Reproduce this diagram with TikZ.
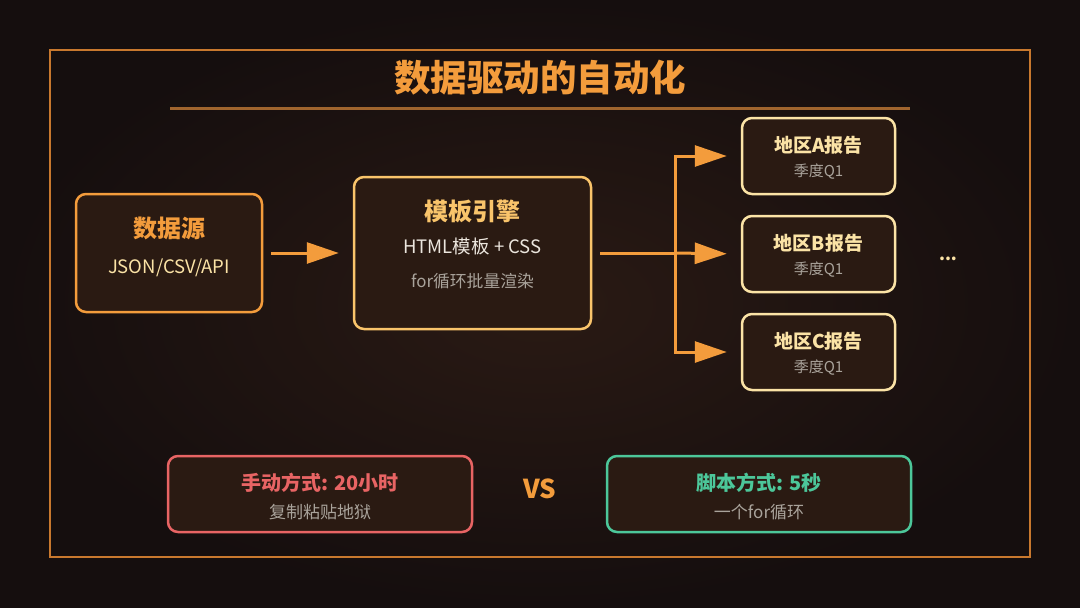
\documentclass[tikz,border=0pt]{standalone}
\usepackage{fontspec}
\setmainfont{Noto Sans CJK SC}
\usetikzlibrary{arrows.meta}
\definecolor{bgin}{HTML}{2A1A14}
\definecolor{bgout}{HTML}{150E0E}
\definecolor{boxfill}{HTML}{2A1A12}
\definecolor{frame}{HTML}{C8782E}
\definecolor{rule}{HTML}{A0652E}
\definecolor{orng}{HTML}{F39C3C}
\definecolor{gold}{HTML}{F9C46B}
\definecolor{cream}{HTML}{FBE3A6}
\definecolor{lgray}{HTML}{ECE6DE}
\definecolor{dgray}{HTML}{A9A39B}
\definecolor{rd}{HTML}{E86464}
\definecolor{grn}{HTML}{4CC79A}
\newcommand{\fs}[1]{\fontsize{#1}{#1}\selectfont}

\begin{document}
\begin{tikzpicture}[x=1pt,y=-1pt,
   box/.style={draw,rounded corners=10pt,line width=2.5pt,fill=boxfill,inner sep=0pt},
   hd/.style={font=\bfseries\fs{24}},
   arr/.style={draw=orng,line width=3pt,-{Triangle[length=32pt,width=21pt]}}]
   % background and frame
   \shade[inner color=bgin,outer color=bgout] (0,0) rectangle (1080,608);
   \useasboundingbox (0,0) rectangle (1080,608);
   \draw[frame,line width=2pt] (50,50) rectangle (1030,557);
   \node[text=orng,font=\bfseries\fs{36.5}] (title) at (540,78) {数据驱动的自动化};
   \draw[rule,line width=3pt] (170,108) -- (910,108);
   % data source
   \node[box,draw=orng,minimum width=186pt,minimum height=118pt] (src) at (169,253) {};
   \node[hd,text=orng] (srcT) at (169,228) {数据源};
   \node[text=cream,font=\fs{18.5}] (srcS) at (169,268) {JSON/CSV/API};
   % template engine
   \node[box,draw=gold,minimum width=237pt,minimum height=152pt] (tpl) at (472.5,253) {};
   \node[hd,text=gold] (tplT) at (472.5,211) {模板引擎};
   \node[text=lgray,font=\fs{18.5}] (tplS) at (472.5,246) {HTML模板 + CSS};
   \node[text=dgray,font=\fs{16.8}] (tplL) at (472.5,281) {for循环批量渲染};
   % reports
   \foreach \r/\y in {A/156,B/254,C/352}{
      \node[box,draw=cream,minimum width=153pt,minimum height=76pt] (rep\r) at (818.5,\y) {};
      \node[text=cream,font=\bfseries\fs{19}] (rep\r T) at (818.5,\y-11) {地区\r 报告};
      \node[text=dgray,font=\fs{15}] (rep\r S) at (818.5,\y+16) {季度Q1};
   }
   \node[text=cream,font=\bfseries\fs{17}] (more) at (948,259) {...};
   % arrows
   \coordinate (fork) at (675,253);
   \draw[arr,shorten <=8pt,shorten >=14pt] (src) -- (tpl);
   \draw[orng,line width=3pt,shorten <=8pt] (tpl.east) -- (fork);
   \draw[arr,shorten >=14pt] (fork) |- (repA.west);
   \draw[arr,shorten >=14pt] (fork) -- (repB.west);
   \draw[arr,shorten >=14pt] (fork) |- (repC.west);
   % comparison
   \node[box,draw=rd,minimum width=304pt,minimum height=76pt] (man) at (320,494) {};
   \node[text=rd,font=\bfseries\fs{20}] (manT) at (320,483) {手动方式: 20小时};
   \node[text=dgray,font=\fs{17}] (manS) at (320,512) {复制粘贴地狱};
   \node[text=orng,font=\bfseries\fs{26}] (vs) at (540,489) {VS};
   \node[box,draw=grn,minimum width=304pt,minimum height=76pt] (scr) at (759,494) {};
   \node[text=grn,font=\bfseries\fs{20}] (scrT) at (759,483) {脚本方式: 5秒};
   \node[text=dgray,font=\fs{17}] (scrS) at (759,512) {一个for循环};
\end{tikzpicture}
\end{document}
